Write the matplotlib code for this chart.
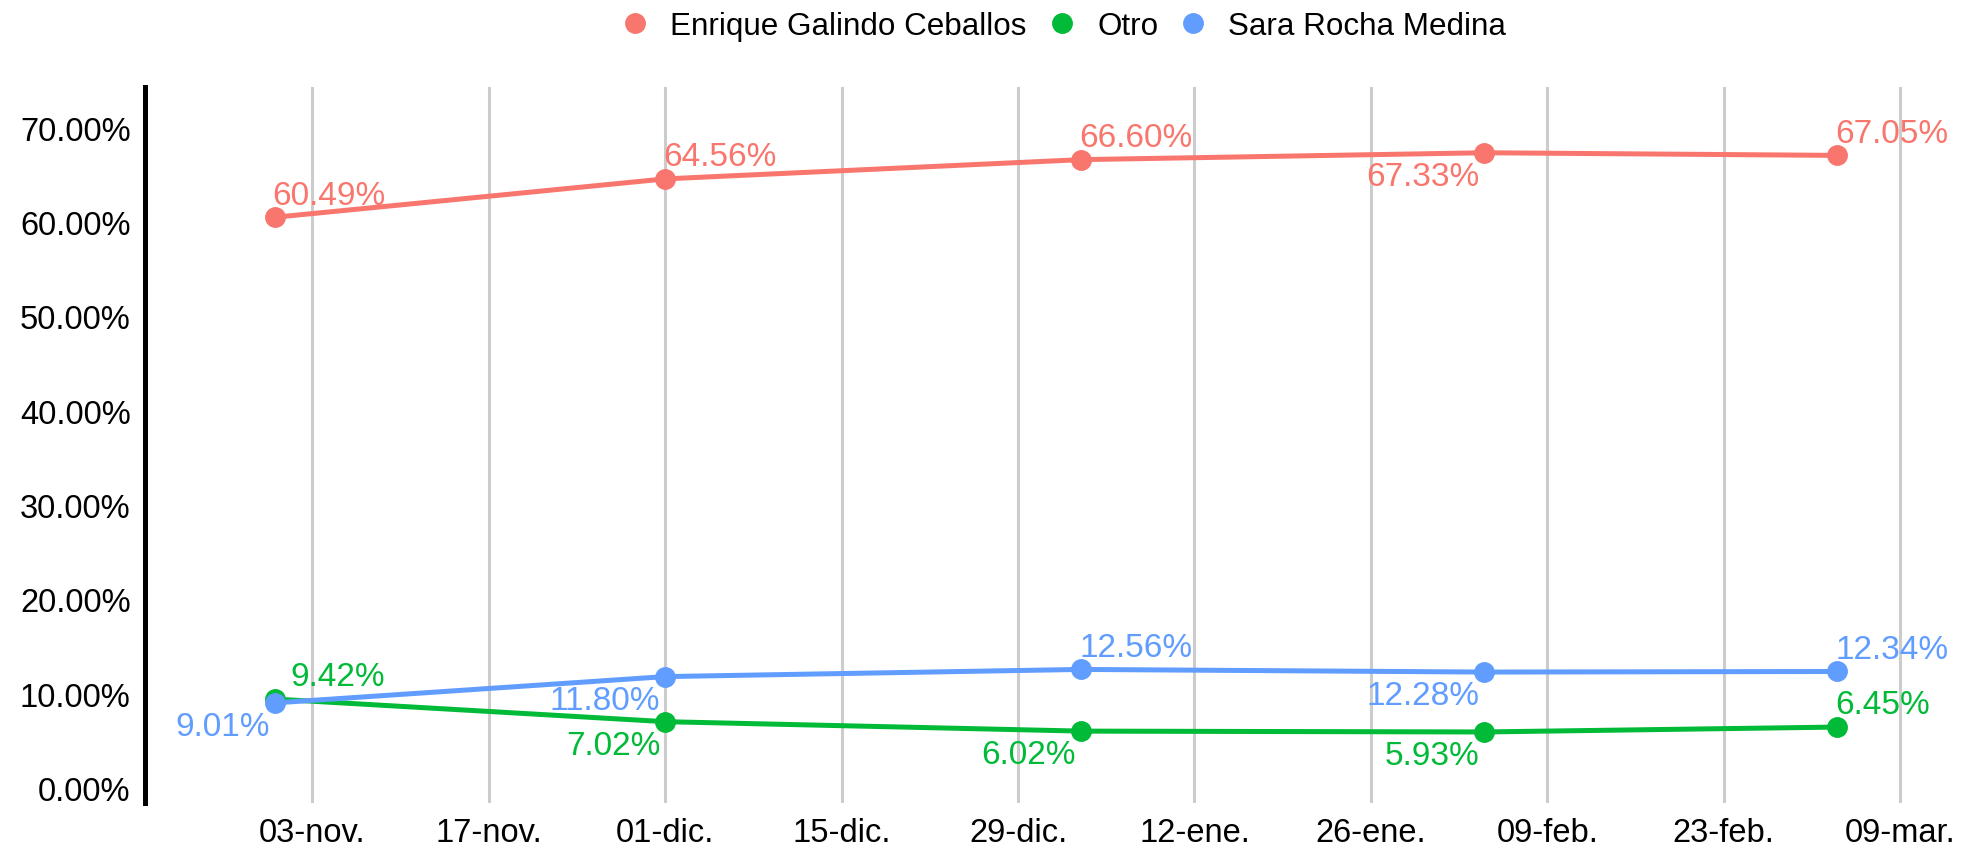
import matplotlib
matplotlib.use("Agg")
import matplotlib.pyplot as plt
from matplotlib.lines import Line2D
import pandas as pd

plt.rcParams['font.family'] = ['Liberation Sans', 'DejaVu Sans']

# Datos de las encuestas
fechas = pd.to_datetime(['2022-10-31', '2022-12-01', '2023-01-03', '2023-02-04', '2023-03-04'])
enrique = [60.49, 64.56, 66.60, 67.33, 67.05]
otro = [9.42, 7.02, 6.02, 5.93, 6.45]
sara = [9.01, 11.80, 12.56, 12.28, 12.34]

nombres = ['Enrique Galindo Ceballos', 'Otro', 'Sara Rocha Medina']
colores = ['#F8766D', '#00BA38', '#619CFF']

# Posición de cada etiqueta: 'ar' = arriba-derecha, 'ab' = abajo-izquierda
pos_enrique = ['ar', 'ar', 'ar', 'ab', 'ar']
pos_otro = ['ar+', 'ab', 'ab', 'ab', 'ar']
pos_sara = ['ab', 'ab', 'ar', 'ab', 'ar']

meses = ['ene.', 'feb.', 'mar.', 'abr.', 'may.', 'jun.', 'jul.', 'ago.', 'sep.', 'oct.', 'nov.', 'dic.']
ticks_x = pd.date_range('2022-11-03', '2023-03-09', freq='14D')

fig = plt.figure(figsize=(19.67, 8.45), dpi=100)
ax = fig.add_axes([144.5 / 1967, 41 / 845, (1919 - 144.5) / 1967, 716 / 845])

series = [(enrique, pos_enrique), (otro, pos_otro), (sara, pos_sara)]
for (valores, posiciones), color in zip(series, colores):
    ax.plot(fechas, valores, color=color, linewidth=3.6, marker='o', markersize=14, zorder=3)
    for f, v, p in zip(fechas, valores, posiciones):
        if p.startswith('ar'):
            dx = 11 if p == 'ar+' else -1.5
            ax.annotate(f'{v:.2f}%', (f, v), xytext=(dx, 16), textcoords='offset points',
                        ha='left', va='center', color=color, fontsize=24, zorder=4)
        else:
            ax.annotate(f'{v:.2f}%', (f, v), xytext=(-3.5, -17), textcoords='offset points',
                        ha='right', va='center', color=color, fontsize=24, zorder=4)

# Ejes
ax.set_ylim(-1.6, 74.3)
ax.set_yticks([0, 10, 20, 30, 40, 50, 60, 70])
ax.set_yticklabels([f'{t:.2f}%' for t in [0, 10, 20, 30, 40, 50, 60, 70]])
ax.set_xlim(pd.Timestamp('2022-10-20 16:00'), pd.Timestamp('2023-03-10 12:00'))
ax.set_xticks(ticks_x)
ax.set_xticklabels([f'{d.day:02d}-{meses[d.month - 1]}' for d in ticks_x])

ax.tick_params(axis='both', length=0, labelsize=23.5, pad=10)
ax.grid(axis='x', color='#CCCCCC', linewidth=2.2)
ax.grid(axis='y', visible=False)
ax.set_axisbelow(True)
for lado in ['top', 'right', 'bottom']:
    ax.spines[lado].set_visible(False)
ax.spines['left'].set_linewidth(3.6)
ax.spines['left'].set_color('black')

# Leyenda arriba
handles = [Line2D([], [], linestyle='none', marker='o', markersize=14, color=c) for c in colores]
fig.legend(handles, nombres, loc='center', bbox_to_anchor=(1064.5 / 1967, 1 - 27 / 845), ncol=3,
           frameon=False, fontsize=22.6, handlelength=0.8, handletextpad=0.72, columnspacing=0.72)

fig.savefig('out.png', dpi=100)
